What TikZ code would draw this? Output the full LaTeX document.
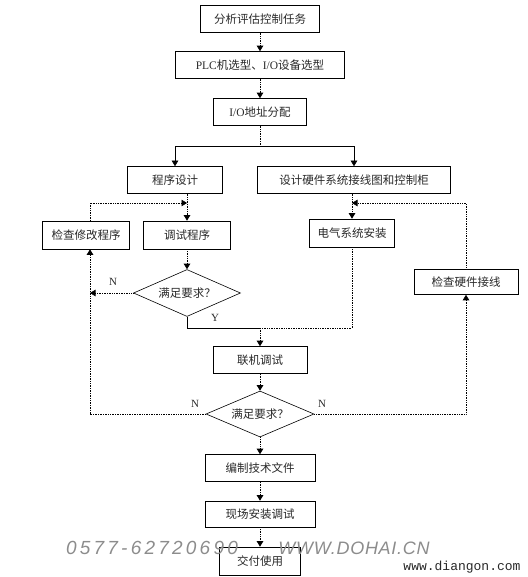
\documentclass[tikz,border=0pt]{standalone}
\usepackage{xcolor}
\usepackage{fontspec}
\setmainfont{Noto Sans CJK SC}
\newfontfamily\lat{Liberation Serif}
\newfontfamily\mono{Liberation Mono}
\newfontfamily\hand[LetterSpace=17]{Liberation Sans Italic}
\newfontfamily\handcaps[LetterSpace=4]{Liberation Sans Italic}
\definecolor{ink}{RGB}{40,40,40}
\usepackage{tikz}
\usetikzlibrary{shapes.geometric}
\usetikzlibrary{arrows.meta}
\begin{document}
\begin{tikzpicture}[x=1pt,y=-1pt,
box/.style={draw,line width=0.6pt,minimum height=27pt,inner sep=0pt,text=ink,font=\fontsize{11.5}{13}\selectfont},
decide/.style={draw,diamond,line width=0.6pt,aspect=2.3,inner sep=0pt,minimum width=107pt,minimum height=47pt,text=ink,font=\fontsize{11.5}{13}\selectfont},
link/.style={densely dotted,line width=0.7pt},
solidlink/.style={line width=0.6pt},
tip/.tip={Triangle[length=5.5pt,width=6.5pt]},
yn/.style={font=\lat\fontsize{11}{12}\selectfont,text=ink}]
\useasboundingbox (0,0) rectangle (527,577);
\node[box,minimum width=119pt] (task) at (260,19) {分析评估控制任务};
\node[box,minimum width=169pt] (select) at (260,65) {{\lat PLC}机选型、{\lat I/O}设备选型};
\node[box,minimum width=93pt] (addr) at (260,112) {{\lat I/O}地址分配};
\node[box,minimum width=95pt] (prog) at (175,180) {程序设计};
\node[box,minimum width=193pt] (hw) at (354,180) {设计硬件系统接线图和控制柜};
\node[box,minimum width=87pt,minimum height=28pt] (fix) at (86,235) {检查修改程序};
\node[box,minimum width=87pt,minimum height=28pt] (debug) at (187,235) {调试程序};
\node[box,minimum width=85pt,minimum height=28pt] (elec) at (352,233) {电气系统安装};
\node[decide] (check1) at (187,293) {满足要求？};
\node[box,minimum width=104pt,minimum height=25pt] (hwchk) at (466,282) {检查硬件接线};
\node[box,minimum width=94pt] (joint) at (260,360) {联机调试};
\node[decide,minimum width=108pt,minimum height=46pt] (check2) at (260,414) {满足要求？};
\node[box,minimum width=110pt] (doc) at (260,468) {编制技术文件};
\node[box,minimum width=110pt,minimum height=26pt] (site) at (260,514) {现场安装调试};
\node[box,minimum width=81pt,minimum height=28pt] (deliver) at (260,561) {交付使用};
\coordinate (split) at (260,146);
\coordinate (back1) at (187,203);
\coordinate (back2) at (352,203);
\coordinate (merge) at (260,328);
\draw[link,-tip] (task) -- (select);
\draw[link,-tip] (select) -- (addr);
\draw[link] (addr) -- (split);
\draw[solidlink,-tip] (split) -| (prog.north);
\draw[solidlink,-tip] (split) -| (hw.north);
\draw[link,-tip] (debug.north |- prog.south) -- (debug.north);
\draw[link,-tip] ([xshift=4pt]fix.north) |- (back1);
\draw[link,-tip] (debug) -- (check1);
\draw[link,-tip] (check1.west) -- ([xshift=4pt]fix.south |- check1.west);
\draw[link,-tip] (check2.west) -| ([xshift=4pt]fix.south);
\draw[solidlink] (check1.south) |- (merge);
\draw[link] (elec.south) |- (merge);
\draw[link,-tip] (elec.north |- hw.south) -- (elec.north);
\draw[link,-tip] (hwchk.north) |- (back2);
\draw[link,-tip] (check2.east) -| (hwchk.south);
\draw[link,-tip] (merge) -- (joint);
\draw[link,-tip] (joint) -- (check2);
\draw[link,-tip] (check2) -- (doc);
\draw[link,-tip] (doc) -- (site);
\draw[link,-tip] (site) -- (deliver);
\node[yn] (n1) at (113,282) {N};
\node[yn] (y1) at (215,318) {Y};
\node[yn] (n2) at (195,404) {N};
\node[yn] (n3) at (322,404) {N};
\node[text=black!45,font=\hand\fontsize{19}{20}\selectfont] (phone) at (152,548) {0577-62720690};
\node[text=black!45,font=\handcaps\fontsize{18}{20}\selectfont] (site1) at (354,548) {WWW.DOHAI.CN};
\node[text=ink,font=\mono\fontsize{13}{14}\selectfont] (site2) at (462,567) {www.diangon.com};
\end{tikzpicture}
\end{document}
